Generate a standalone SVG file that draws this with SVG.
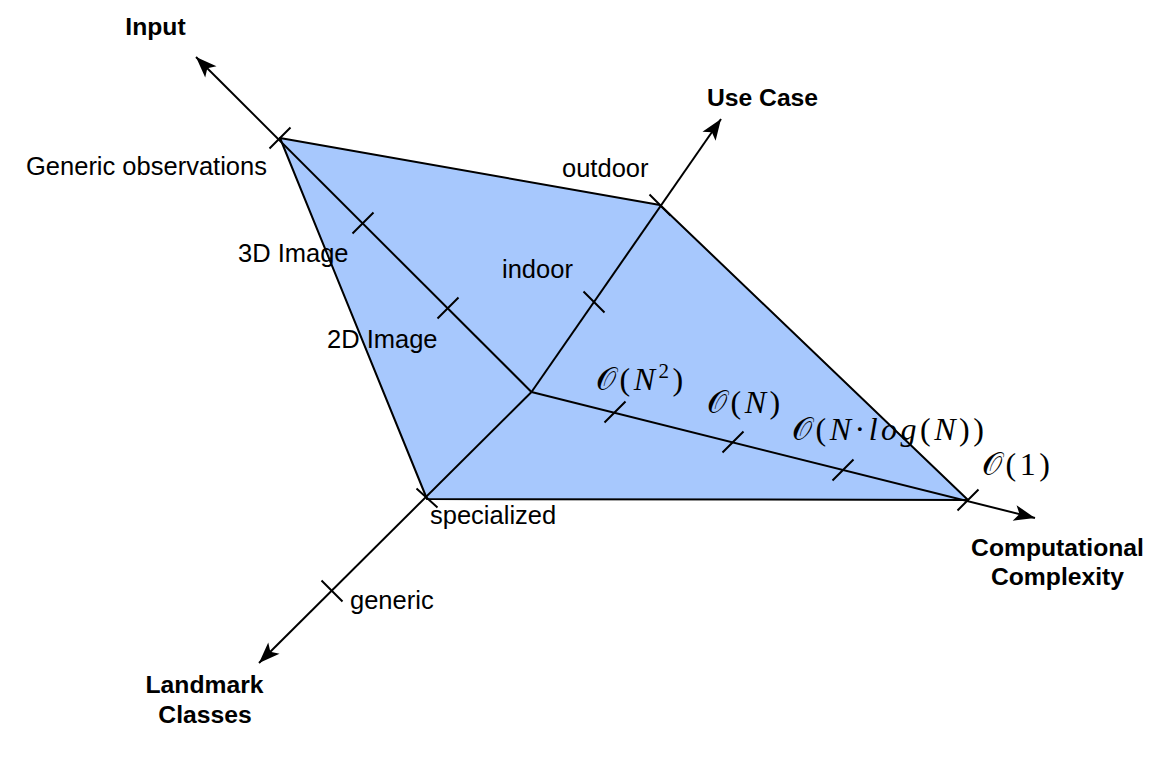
<svg xmlns="http://www.w3.org/2000/svg" width="1172" height="757" viewBox="0 0 1172 757">
<style>
.ax{stroke:#000;stroke-width:2;fill:none}
.tk{stroke:#000;stroke-width:2;fill:none}
.lbl{font-family:"Liberation Sans",Arial,sans-serif;font-size:25.5px;fill:#000}
.ttl{font-family:"Liberation Sans",Arial,sans-serif;font-size:24.7px;font-weight:bold;fill:#000}
.math{font-family:"Liberation Serif","DejaVu Serif",serif;font-size:32px;fill:#000;letter-spacing:3.5px}
.it{font-style:italic}
</style>
<defs>
<marker id="arr" markerUnits="userSpaceOnUse" markerWidth="30" markerHeight="20" viewBox="-22 -10 24 20" refX="0" refY="0" orient="auto">
<path d="M0,0 L-21,-8 L-16,0 L-21,8 Z" fill="#000"/>
</marker>
</defs>
<g id="plane">
<polygon points="280,138 660,205 968,500 427,499" fill="#a7c8fd" stroke="#000" stroke-width="2" stroke-linejoin="round"/>
</g>
<g id="connectors">
<line class="ax" x1="531.5" y1="392" x2="196" y2="57" marker-end="url(#arr)"/>
<line class="ax" x1="531.5" y1="392" x2="721" y2="119" marker-end="url(#arr)"/>
<line class="ax" x1="531.5" y1="392" x2="1035" y2="518" marker-end="url(#arr)"/>
<line class="ax" x1="531.5" y1="392" x2="259" y2="663" marker-end="url(#arr)"/>
</g>
<g id="ticks">
<path class="tk" d="M269.5,148.5 L290.5,127.5 M352.5,233.5 L373.5,212.5 M437.5,318.5 L458.5,297.5"/>
<path class="tk" d="M583.5,291.5 L604.5,312.5 M649.5,194.5 L670.5,215.5"/>
<path class="tk" d="M604.5,422.5 L625.5,401.5 M722.5,452.5 L743.5,431.5 M832.5,480.5 L853.5,459.5 M957.5,510.5 L978.5,489.5"/>
<path class="tk" d="M416.5,488.5 L437.5,507.5 M321.5,580.5 L342.5,601.5"/>
</g>
<g id="axis-input">
<text class="ttl" x="155.5" y="35" text-anchor="middle">Input</text>
<text class="lbl" x="26" y="175">Generic observations</text>
<text class="lbl" x="238" y="262">3D Image</text>
<text class="lbl" x="327" y="348">2D Image</text>
</g>
<g id="axis-usecase">
<text class="ttl" x="762.5" y="106" text-anchor="middle">Use Case</text>
<text class="lbl" x="562" y="177">outdoor</text>
<text class="lbl" x="502" y="278">indoor</text>
</g>
<g id="axis-complexity">
<text class="ttl" x="1057.5" y="556" text-anchor="middle">Computational</text>
<text class="ttl" x="1057.5" y="585" text-anchor="middle">Complexity</text>
<text class="math" x="596" y="390">𝒪(<tspan class="it">N</tspan><tspan font-size="21" dy="-12">2</tspan><tspan dy="12">)</tspan></text>
<text class="math" x="707" y="413">𝒪(<tspan class="it">N</tspan>)</text>
<text class="math" x="792" y="440">𝒪(<tspan class="it">N</tspan>·<tspan class="it">log</tspan>(<tspan class="it">N</tspan>))</text>
<text class="math" x="982" y="475">𝒪(1)</text>
</g>
<g id="axis-landmark">
<text class="ttl" x="204.5" y="693" text-anchor="middle">Landmark</text>
<text class="ttl" x="205" y="723" text-anchor="middle">Classes</text>
<text class="lbl" x="430" y="524">specialized</text>
<text class="lbl" x="350" y="609">generic</text>
</g>
</svg>
